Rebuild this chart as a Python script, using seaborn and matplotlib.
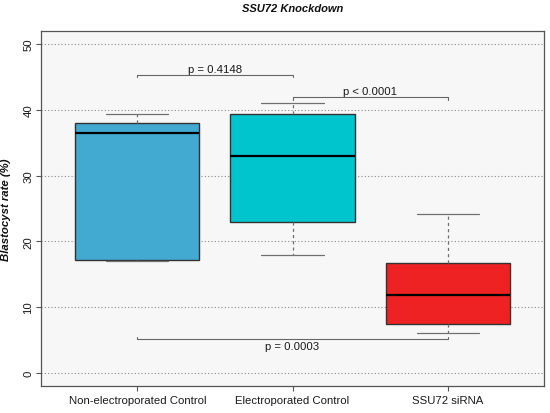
import matplotlib
matplotlib.use("Agg")
import matplotlib.pyplot as plt
import seaborn as sns
import pandas as pd

# ---- data ----
groups = ["Non-electroporated Control", "Electroporated Control", "SSU72 siRNA"]
# five-number summaries: lower whisker, Q1, median, Q3, upper whisker
non_ep_values = [17.0, 17.1, 36.5, 38.0, 39.3]
ep_ctrl_values = [17.9, 23.0, 33.0, 39.4, 41.0]
sirna_values = [6.0, 7.5, 11.8, 16.7, 24.1]
box_colors = ["#42A9D1", "#00C5CD", "#EE2222"]
y_ticks = [0, 10, 20, 30, 40, 50]

bracket_pairs = [(0, 1), (1, 2), (0, 2)]
bracket_heights = [45.3, 41.9, 5.1]
bracket_labels = ["p = 0.4148", "p < 0.0001", "p = 0.0003"]
bracket_above = [True, True, False]

title = "SSU72 Knockdown"
ylabel = "Blastocyst rate (%)"

df = pd.DataFrame({
    "group": [groups[0]] * len(non_ep_values) + [groups[1]] * len(ep_ctrl_values)
             + [groups[2]] * len(sirna_values),
    "value": non_ep_values + ep_ctrl_values + sirna_values,
})

sns.set_style("white")
plt.rcParams["font.family"] = ["Liberation Sans", "DejaVu Sans"]

fig = plt.figure(figsize=(5.5, 4.14), dpi=100)
ax = fig.add_axes([41 / 550, 1 - 387 / 414, 503 / 550, 355 / 414])
ax.set_facecolor("#F7F7F7")

sns.boxplot(
    data=df, x="group", y="value", hue="group", order=groups, hue_order=groups,
    palette=box_colors, saturation=1, legend=False, width=0.8, showfliers=False,
    linewidth=1.0, linecolor="#333333",
    whiskerprops=dict(linestyle=(0, (2.5, 2.5)), color="#707070", linewidth=0.9),
    capprops=dict(color="#707070", linewidth=0.9),
    medianprops=dict(color="black", linewidth=1.6),
    ax=ax,
)

ax.set_xlim(-0.62, 2.62)
ax.set_ylim(-2, 52)
ax.set_yticks(y_ticks)
ax.set_axisbelow(True)
ax.yaxis.grid(True, linestyle=(0, (1, 2)), color="#8a8a8a", linewidth=0.8)
ax.xaxis.grid(False)

for s in ax.spines.values():
    s.set_visible(True)
    s.set_color("#555555")
    s.set_linewidth(0.9)

ax.tick_params(axis="both", which="both", direction="out", length=3.5, width=0.8,
               color="#555555", labelsize=8.2, labelcolor="#1a1a1a")
ax.tick_params(axis="y", left=True, pad=2)
ax.tick_params(axis="x", bottom=True, pad=3)
for lab in ax.get_yticklabels():
    lab.set_rotation(90)
    lab.set_va("center")

ax.set_xlabel("")
ax.set_ylabel(ylabel, fontsize=8.2, fontweight="bold", fontstyle="italic", color="#111111")
ax.yaxis.set_label_coords(-0.06, 0.5)

ax.text(0.5, 1 + 23 / 355, title, transform=ax.transAxes, ha="center", va="center",
        fontsize=8, fontweight="bold", fontstyle="italic", color="#111111")

for (a, b), h, lab, above in zip(bracket_pairs, bracket_heights, bracket_labels, bracket_above):
    d = -0.35 if above else 0.35
    ax.plot([a, a, b, b], [h + d, h, h, h + d], color="#666666", linewidth=0.8)
    xm = (a + b) / 2
    if above:
        ax.text(xm, h + 0.45, lab, ha="center", va="baseline", fontsize=8.2, color="#1a1a1a")
    else:
        ax.text(xm, h - 0.25, lab, ha="center", va="top", fontsize=8.2, color="#1a1a1a")

fig.savefig("out.png", dpi=100)
